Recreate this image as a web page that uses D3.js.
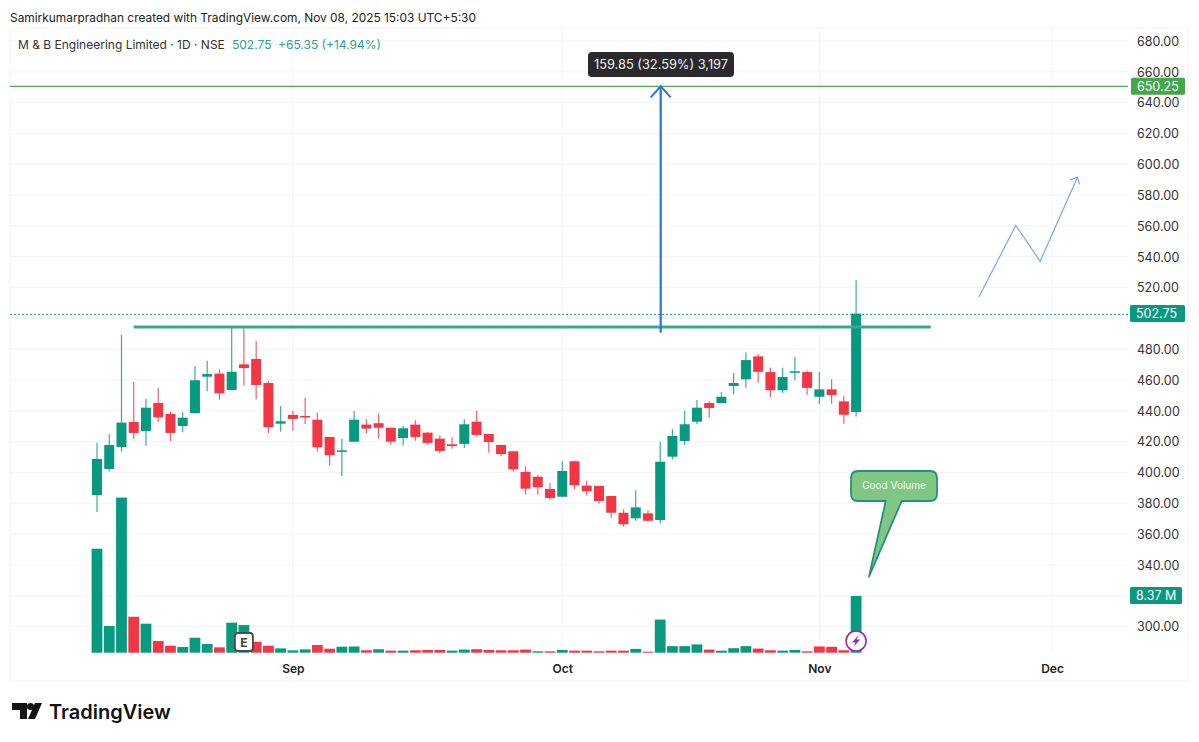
<!DOCTYPE html>
<html>
<head>
<meta charset="utf-8">
<script src="https://cdn.jsdelivr.net/npm/d3@7"></script>
<style>
html, body { margin: 0; padding: 0; background: #fff; }
svg { display: block; }
text { font-family: Inter, "Noto Sans", sans-serif; }
</style>
</head>
<body>
<div id="chart"></div>
<script>
const opens = [385.0,401.9,416.2,432.4,426.6,444.7,437.6,429.8,438.1,461.8,463.8,453.2,469.8,473.3,457.7,431.3,437.0,436.3,433.9,422.7,413.4,
    419.6,430.7,431.6,428.7,422.0,430.7,425.5,421.6,417.9,418.2,432.6,424.6,417.5,413.4,400.0,396.9,388.9,383.9,406.9,391.1,390.9,384.4,
    373.5,369.9,373.1,368.8,409.9,420.1,432.6,444.7,444.7,455.8,460.1,475.0,464.8,453.0,464.8,464.8,448.8,453.6,445.8,438.9];
const highs = [419.0,424.6,488.9,458.4,447.5,454.5,439.1,438.7,468.7,472.2,466.6,493.6,493.2,485.0,459.0,442.8,439.7,448.2,438.4,422.7,421.6,
    439.5,434.2,438.1,428.7,429.8,433.5,425.7,423.8,422.5,434.2,439.7,424.6,417.5,413.4,403.8,397.8,392.8,406.9,406.9,394.3,390.9,384.4,
    375.7,388.1,375.1,419.6,427.7,439.7,446.7,445.8,451.9,464.2,477.6,476.5,467.6,467.6,474.6,465.9,464.8,460.1,449.1,524.6];
const lows = [374.0,400.2,413.1,421.4,417.0,432.4,420.1,425.7,438.1,452.3,446.9,453.2,456.0,447.1,425.3,426.1,426.8,431.1,413.1,404.0,397.4,
    419.6,425.0,421.6,417.7,417.0,420.3,417.7,412.1,415.1,415.5,422.9,412.5,410.3,400.2,385.2,385.2,382.0,383.7,388.7,384.8,379.4,370.3,
    364.4,368.3,367.7,366.7,408.2,417.5,431.1,435.2,444.7,450.4,454.7,457.9,448.6,451.2,459.5,450.1,444.1,444.3,431.3,435.9];
const closes = [408.4,417.5,432.0,425.3,441.7,435.4,425.3,435.2,459.5,463.5,451.0,465.0,467.4,456.4,429.0,432.9,434.4,435.6,416.0,410.8,414.0,
    433.9,428.1,428.7,419.6,428.3,422.7,418.8,413.6,416.8,430.9,424.0,419.4,411.6,401.7,389.1,390.0,383.1,400.6,391.3,387.4,381.1,373.5,
    366.0,377.0,368.3,406.6,423.3,430.9,441.7,441.5,448.8,457.7,472.6,465.0,453.0,461.6,465.3,454.5,453.6,449.9,437.1,502.75];
// volume in millions, up/down flag kept separately because a few days differ from open vs close
const volumes = [15.35,3.94,22.9,5.31,4.28,1.72,1.03,0.84,2.21,1.28,0.79,4.43,4.08,1.62,1.03,0.64,0.34,0.49,1.13,0.59,0.89,
    0.92,0.36,0.51,0.30,0.30,0.36,0.41,0.41,0.30,0.46,0.51,0.41,0.36,0.36,0.46,0.20,0.20,0.41,0.30,0.30,0.20,0.30,
    0.30,0.56,0.15,4.89,0.97,0.97,1.22,0.46,0.30,0.66,0.97,0.61,0.36,0.30,0.41,0.20,0.92,0.87,0.36,8.37];
const volumeUp = [1,1,1,0,1,0,0,1,1,1,0,1,1,0,0,1,1,1,0,0,1,
    1,0,1,0,1,0,0,0,1,1,0,0,0,0,0,1,0,1,0,0,0,0,
    0,1,0,1,1,1,1,0,1,1,1,0,0,1,1,0,0,0,0,1];

const priceTicks = [680,660,640,620,600,580,560,540,520,480,460,440,420,400,380,360,340,300];
const gridPrices = [680,660,640,620,600,580,560,540,520,500,480,460,440,420,400,380,360,340,320,300];
const monthIndex = [16,38,59,78];
const monthLabels = ["Sep","Oct","Nov","Dec"];

const resistance = 494.1;
const targetPrice = 650.25;
const lastPrice = 502.75;
const lastVolume = 8.37;
const measureFrom = 490.4;
const measureBar = 46;
const resistanceBars = [3.0, 68.1];
const pathBars = [72.03,75.04,77.03,80.08];
const pathPrices = [513.5,560.0,536.7,591.2];

const width = 1199, height = 742;
const up = "#089981", down = "#f23645";
const paneLeft = 10, paneRight = 1128, paneTop = 28, paneBottom = 653;

const x = d3.scaleLinear().domain([0, 78]).range([97, 1052]);
const y = d3.scaleLinear().domain([300, 680]).range([626, 40.5]);
const v = d3.scaleLinear().domain([0, 23]).range([652.7, 496.9]);

const svg = d3.select("#chart").append("svg")
    .attr("width", width)
    .attr("height", height);

// frame
svg.append("rect")
    .attr("x", paneLeft).attr("y", paneTop)
    .attr("width", 1188 - paneLeft).attr("height", 681 - paneTop)
    .attr("fill", "none").attr("stroke", "#f3f4f6");

// grid
svg.append("g").selectAll("line").data(gridPrices).join("line")
    .attr("x1", paneLeft).attr("x2", paneRight)
    .attr("y1", d => y(d) + 0.5).attr("y2", d => y(d) + 0.5)
    .attr("stroke", "#f3f4f6");
svg.append("g").selectAll("line").data(monthIndex).join("line")
    .attr("x1", d => x(d)).attr("x2", d => x(d))
    .attr("y1", paneTop).attr("y2", paneBottom)
    .attr("stroke", "#f3f4f6");

// volume
svg.append("g").selectAll("rect").data(volumes).join("rect")
    .attr("x", (d, i) => x(i) - 5.4)
    .attr("width", 10.8)
    .attr("y", d => v(d))
    .attr("height", d => v(0) - v(d))
    .attr("fill", (d, i) => volumeUp[i] ? up : down);

// dotted last price line
svg.append("line")
    .attr("x1", paneLeft).attr("x2", paneRight)
    .attr("y1", Math.round(y(lastPrice)) + 0.5).attr("y2", Math.round(y(lastPrice)) + 0.5)
    .attr("stroke", "#2ba58c").attr("stroke-dasharray", "2 2");

// candles
const candles = svg.append("g").selectAll("g").data(d3.range(opens.length)).join("g");
candles.append("line")
    .attr("x1", i => x(i)).attr("x2", i => x(i))
    .attr("y1", i => y(highs[i])).attr("y2", i => y(lows[i]))
    .attr("stroke", i => closes[i] >= opens[i] ? up : down)
    .attr("stroke-opacity", 0.8)
    .attr("stroke-width", 1.2);
candles.append("rect")
    .attr("x", i => x(i) - 5)
    .attr("width", 10)
    .attr("y", i => y(Math.max(opens[i], closes[i])))
    .attr("height", i => Math.max(1.5, Math.abs(y(opens[i]) - y(closes[i]))))
    .attr("fill", i => closes[i] >= opens[i] ? up : down);

// resistance and target lines
svg.append("line")
    .attr("x1", x(resistanceBars[0])).attr("x2", x(resistanceBars[1]))
    .attr("y1", y(resistance)).attr("y2", y(resistance))
    .attr("stroke", "#3aa88c").attr("stroke-width", 3);
svg.append("line")
    .attr("x1", paneLeft).attr("x2", paneRight)
    .attr("y1", y(targetPrice)).attr("y2", y(targetPrice))
    .attr("stroke", "#4caf50").attr("stroke-width", 1.2);

// measure arrow
const ax = x(measureBar) + 0.5, ay = y(targetPrice);
svg.append("line")
    .attr("x1", ax).attr("x2", ax)
    .attr("y1", y(measureFrom)).attr("y2", ay)
    .attr("stroke", "#2f6fe4").attr("stroke-width", 2.2);
svg.append("path")
    .attr("d", `M${ax - 10},${ay + 11}L${ax},${ay}L${ax + 10},${ay + 11}`)
    .attr("fill", "none").attr("stroke", "#2f6fe4").attr("stroke-width", 2);

const tip = svg.append("g");
tip.append("rect")
    .attr("x", 588).attr("y", 52).attr("width", 146).attr("height", 25).attr("rx", 4)
    .attr("fill", "#2a2a2c");
tip.append("text")
    .attr("x", 661).attr("y", 69).attr("text-anchor", "middle")
    .attr("font-size", 12.8).attr("fill", "#f0f0f0")
    .text("159.85 (32.59%) 3,197");

// forecast path
const pathLine = d3.line().x(d => x(d[0])).y(d => y(d[1]));
const pathPts = pathBars.map((b, i) => [b, pathPrices[i]]);
svg.append("path")
    .attr("d", pathLine(pathPts))
    .attr("fill", "none").attr("stroke", "#7aa8ea").attr("stroke-width", 1.2);
const px = x(pathBars[3]), py = y(pathPrices[3]);
svg.append("path")
    .attr("d", `M${px - 7.5},${py + 2.5}L${px},${py}L${px + 2},${py + 7}`)
    .attr("fill", "none").attr("stroke", "#7aa8ea").attr("stroke-width", 1.2);

// callout
svg.append("path")
    .attr("d", "M858,471H930Q937,471 937,478V494Q937,501 930,501H901.7L869,576.7L885.7,501H858Q851,501 851,494V478Q851,471 858,471Z")
    .attr("fill", "#81c784").attr("stroke", "#26907f").attr("stroke-width", 1.8).attr("stroke-linejoin", "round");
svg.append("text")
    .attr("x", 894).attr("y", 489).attr("text-anchor", "middle")
    .attr("font-size", 10).attr("fill", "#f4fbf5")
    .text("Good Volume");

// earnings badge
const badge = svg.append("g");
badge.append("rect")
    .attr("x", x(12) - 9).attr("y", 633).attr("width", 18).attr("height", 18).attr("rx", 3)
    .attr("fill", "#fff").attr("stroke", "#4a4a4a").attr("stroke-width", 1.8);
badge.append("text")
    .attr("x", x(12)).attr("y", 646.5).attr("text-anchor", "middle")
    .attr("font-size", 12).attr("font-weight", 700).attr("fill", "#444")
    .text("E");

// dividend/lightning marker
const cx = x(62);
svg.append("circle")
    .attr("cx", cx).attr("cy", 641).attr("r", 10)
    .attr("fill", "#fff").attr("stroke", "#9c27b0").attr("stroke-width", 1.6);
svg.append("path")
    .attr("d", `M${cx + 2.5},${635}L${cx - 4},${642.5}H${cx - 0.5}L${cx - 2.5},${647}L${cx + 4},${639.5}H${cx + 0.5}Z`)
    .attr("fill", "#9c27b0");

// price axis
const yAxis = svg.append("g")
    .attr("transform", `translate(${paneRight + 9},0.8)`)
    .call(d3.axisRight(y).tickValues(priceTicks).tickSize(0).tickPadding(0).tickFormat(d3.format(".2f")));
yAxis.select(".domain").remove();
yAxis.selectAll("text")
    .attr("font-family", "Inter, sans-serif")
    .attr("font-size", 12.5).attr("fill", "#333");

// time axis
const xAxis = svg.append("g")
    .attr("transform", `translate(0,${paneBottom})`)
    .call(d3.axisBottom(x).tickValues(monthIndex).tickSize(0).tickPadding(11)
        .tickFormat((d, i) => monthLabels[i]));
xAxis.select(".domain").remove();
xAxis.selectAll("text")
    .attr("font-family", "Inter, sans-serif")
    .attr("font-size", 12).attr("font-weight", 600).attr("fill", "#222");

// last value labels on the axis
function axisLabel(x0, x1, yc, fill, label) {
    svg.append("rect")
        .attr("x", x0).attr("y", yc - 8.5).attr("width", x1 - x0).attr("height", 17).attr("rx", 1.5)
        .attr("fill", fill);
    svg.append("text")
        .attr("x", x0 + 6).attr("y", yc + 4.5)
        .attr("font-size", 12.5).attr("fill", "#fff")
        .text(label);
}
axisLabel(1131, 1185, y(targetPrice), "#43a84a", d3.format(".2f")(targetPrice));
axisLabel(1130, 1185, y(lastPrice), up, d3.format(".2f")(lastPrice));
axisLabel(1130, 1182, v(lastVolume) -0.5, up, lastVolume + " M");

// header and legend
svg.append("text")
    .attr("x", 10).attr("y", 22)
    .attr("font-size", 11.9).attr("fill", "#222")
    .text("Samirkumarpradhan created with TradingView.com, Nov 08, 2025 15:03 UTC+5:30");
svg.append("text")
    .attr("x", 18).attr("y", 49)
    .attr("font-size", 12).attr("fill", "#333")
    .text("M & B Engineering Limited · 1D · NSE");
svg.append("text")
    .attr("x", 232).attr("y", 49)
    .attr("font-size", 12).attr("fill", "#2ba58c")
    .text("502.75");
svg.append("text")
    .attr("x", 278).attr("y", 49)
    .attr("font-size", 12).attr("fill", "#2ba58c")
    .text("+65.35 (+14.94%)");

// logo
const logo = svg.append("g").attr("fill", "#131313");
logo.append("path").attr("d", "M12,703H27V719H20V710H12Z");
logo.append("circle").attr("cx", 30.5).attr("cy", 706.5).attr("r", 3.5);
logo.append("path").attr("d", "M35,703H42L35,719H28Z");
svg.append("text")
    .attr("x", 49).attr("y", 719)
    .attr("font-size", 20).attr("font-weight", 600).attr("fill", "#131313")
    .text("TradingView");
</script>
</body>
</html>
